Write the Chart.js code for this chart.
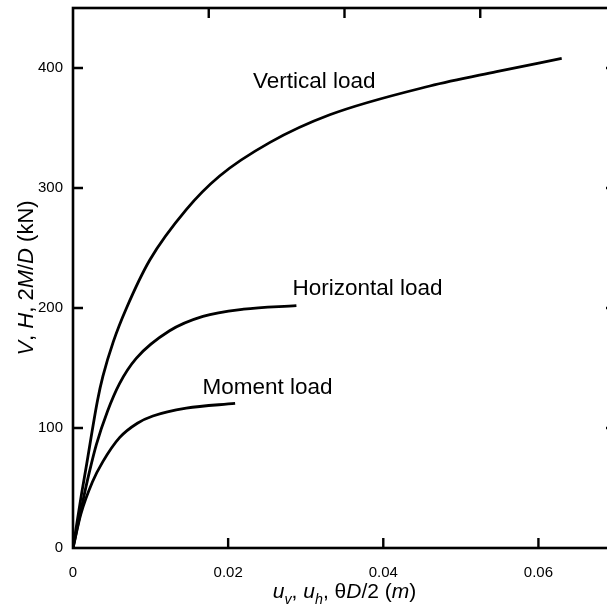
<!DOCTYPE html>
<html>
<head>
<meta charset="utf-8">
<script src="https://cdn.jsdelivr.net/npm/chart.js@4"></script>
<style>
  html, body { margin: 0; padding: 0; overflow: hidden; background: #fff; }
</style>
</head>
<body>
<canvas id="chart" width="625" height="609"></canvas>
<script>
// load-displacement curves
var vertX = [0, 0.0011, 0.00166, 0.00316, 0.00385, 0.0052, 0.0069, 0.0099, 0.0146, 0.0189, 0.0254, 0.0331, 0.046, 0.0546, 0.063];
var vertY = [0, 45, 66, 123, 143, 172, 200, 240, 282, 310, 338, 361, 385, 397, 408];

var horX = [0, 0.0013, 0.0021, 0.003, 0.00445, 0.006, 0.00815, 0.01245, 0.01675, 0.022, 0.0288];
var horY = [0, 40, 63, 86, 114, 137, 158, 181, 193, 199, 202];

var momX = [0, 0.001, 0.0025, 0.00385, 0.006, 0.0083, 0.0103, 0.0146, 0.0209];
var momY = [0, 28, 55, 72, 92, 104, 110, 116.5, 120.5];

// curve labels, placed in data units (left edge, baseline)
var annoText = ['Vertical load', 'Horizontal load', 'Moment load'];
var annoX = [0.0232, 0.0283, 0.0167];
var annoY = [383, 211, 128];

// ticks on the top frame edge sit at quarters, not at the bottom tick values
var topTicks = [0.0175, 0.035, 0.0525];

var FONT = "'Liberation Sans', Arial, Helvetica, sans-serif";
var TICK = 10;

function pts(xs, ys) {
  return xs.map(function (v, i) { return { x: v, y: ys[i] }; });
}

function drawRich(ctx, parts, size) {
  var w = 0;
  parts.forEach(function (p) {
    ctx.font = (p.i ? 'italic ' : '') + (p.sub ? size * 0.68 : size) + 'px ' + FONT;
    w += ctx.measureText(p.t).width;
  });
  var cx = -w / 2;
  parts.forEach(function (p) {
    ctx.font = (p.i ? 'italic ' : '') + (p.sub ? size * 0.68 : size) + 'px ' + FONT;
    ctx.fillText(p.t, cx, p.sub ? size * 0.28 : 0);
    cx += ctx.measureText(p.t).width;
  });
}

var xTitle = [
  { t: 'u', i: true }, { t: 'v', i: true, sub: true }, { t: ', ' },
  { t: 'u', i: true }, { t: 'h', i: true, sub: true }, { t: ', \u03B8' },
  { t: 'D', i: true }, { t: '/2 (' }, { t: 'm', i: true }, { t: ')' }
];
var yTitle = [
  { t: 'V', i: true }, { t: ', ' }, { t: 'H', i: true }, { t: ', 2' },
  { t: 'M', i: true }, { t: '/' }, { t: 'D', i: true }, { t: ' (kN)' }
];

var frameTicks = {
  id: 'frameTicks',
  afterDatasetsDraw: function (chart) {
    var ctx = chart.ctx, a = chart.chartArea;
    var x = chart.scales.x, y = chart.scales.y;
    ctx.save();
    ctx.strokeStyle = '#000';
    ctx.lineWidth = 2.6;
    ctx.strokeRect(a.left, a.top, a.right - a.left, a.bottom - a.top);

    ctx.lineWidth = 2.4;
    ctx.beginPath();
    x.ticks.forEach(function (t) {
      if (t.value <= 0) return;
      var px = x.getPixelForValue(t.value);
      ctx.moveTo(px, a.bottom); ctx.lineTo(px, a.bottom - TICK);
    });
    topTicks.forEach(function (v) {
      var px = x.getPixelForValue(v);
      ctx.moveTo(px, a.top); ctx.lineTo(px, a.top + TICK);
    });
    y.ticks.forEach(function (t) {
      if (t.value <= 0) return;
      var py = y.getPixelForValue(t.value);
      ctx.moveTo(a.left, py); ctx.lineTo(a.left + TICK, py);
      ctx.moveTo(a.right, py); ctx.lineTo(a.right - TICK, py);
    });
    ctx.stroke();

    ctx.fillStyle = '#000';
    ctx.textBaseline = 'alphabetic';
    ctx.textAlign = 'left';
    ctx.font = '22.5px ' + FONT;
    annoText.forEach(function (s, i) {
      ctx.fillText(s, x.getPixelForValue(annoX[i]), y.getPixelForValue(annoY[i]));
    });

    // axis titles
    ctx.save();
    ctx.translate((a.left + a.right) / 2, 598);
    drawRich(ctx, xTitle, 21);
    ctx.restore();

    ctx.save();
    ctx.translate(33, (a.top + a.bottom) / 2);
    ctx.rotate(-Math.PI / 2);
    drawRich(ctx, yTitle, 22);
    ctx.restore();

    ctx.restore();
  }
};

function lineSet(label, xs, ys) {
  return {
    label: label,
    data: pts(xs, ys),
    borderColor: '#000',
    borderWidth: 2.8,
    pointRadius: 0,
    fill: false,
    cubicInterpolationMode: 'monotone'
  };
}

function noPad(s) {
  s.paddingTop = 0; s.paddingBottom = 0; s.paddingLeft = 0; s.paddingRight = 0;
}

var ctx = document.getElementById('chart').getContext('2d');
var chart = new Chart(ctx, {
  type: 'line',
  data: {
    datasets: [
      lineSet('Vertical load', vertX, vertY),
      lineSet('Horizontal load', horX, horY),
      lineSet('Moment load', momX, momY)
    ]
  },
  options: {
    responsive: false,
    animation: false,
    layout: { padding: { top: 8, right: 9, left: 0, bottom: 0 } },
    plugins: {
      legend: { display: false },
      tooltip: { enabled: false }
    },
    scales: {
      x: {
        type: 'linear',
        min: 0,
        max: 0.07,
        grid: { display: false, drawTicks: false },
        border: { display: false },
        ticks: {
          stepSize: 0.02,
          includeBounds: false,
          padding: 16,
          maxRotation: 0,
          color: '#000',
          font: { family: FONT, size: 15 },
          callback: function (v) { return String(+v.toFixed(2)); }
        },
        afterFit: function (s) { s.height = 61; noPad(s); }
      },
      y: {
        type: 'linear',
        min: 0,
        max: 450,
        grid: { display: false, drawTicks: false },
        border: { display: false },
        ticks: {
          stepSize: 100,
          includeBounds: false,
          padding: 10,
          color: '#000',
          font: { family: FONT, size: 15 }
        },
        afterFit: function (s) { s.width = 73; noPad(s); }
      }
    }
  },
  plugins: [frameTicks]
});
</script>
</body>
</html>
